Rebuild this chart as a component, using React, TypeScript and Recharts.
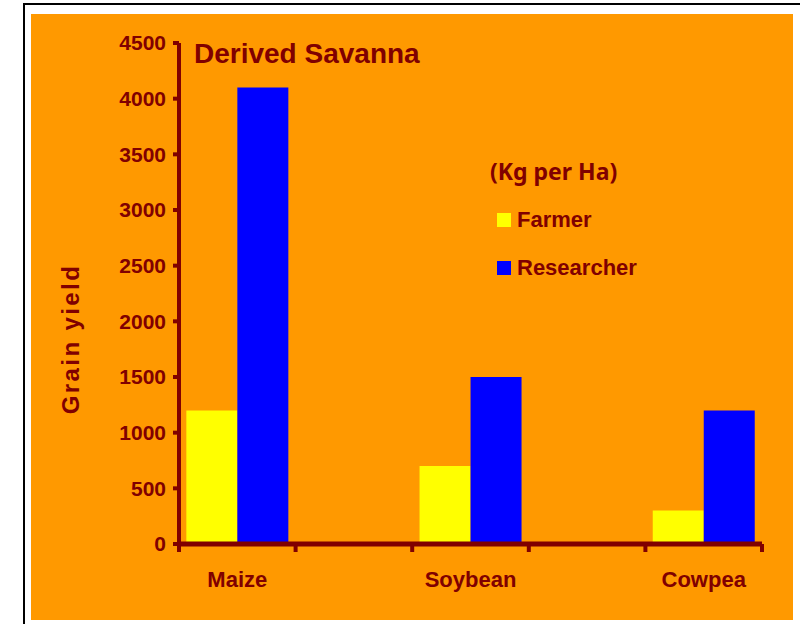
import { BarChart, Bar, XAxis, YAxis, Legend } from "recharts";

const categories = ["Maize", "", "Soybean", "", "Cowpea"];
const farmerYield = [1200, null, 700, null, 300];
const researcherYield = [4100, null, 1500, null, 1200];
const yTicks = [0, 500, 1000, 1500, 2000, 2500, 3000, 3500, 4000, 4500];

const DARK = "#800000";
const FONT = "'Liberation Sans', Arial, sans-serif";
const X_TICK_SIZE = 6;
const X_TICK_MARGIN = 21;

const data = categories.map((name, i) => ({
  name,
  Farmer: farmerYield[i],
  Researcher: researcherYield[i],
}));

// category label plus tick marks on the band edges (Excel style)
const CategoryTick = (props: any) => {
  const { x, y, payload, index, visibleTicksCount } = props;
  const half = payload.offset || 0;
  const axisY = y - X_TICK_MARGIN - X_TICK_SIZE;
  const isLast = index === visibleTicksCount - 1;
  return (
    <g>
      <line x1={x - half} x2={x - half} y1={axisY} y2={axisY + 8} stroke={DARK} strokeWidth={4} />
      {isLast && <line x1={x + half} x2={x + half} y1={axisY} y2={axisY + 8} stroke={DARK} strokeWidth={4} />}
      <text x={x} y={y} dy="0.71em" textAnchor="middle" fill={DARK} fontSize={22} fontWeight="bold" fontFamily={FONT}>
        {payload.value}
      </text>
    </g>
  );
};

const renderLegend = ({ payload }: any) => (
  <div style={{ fontFamily: FONT, color: DARK, fontWeight: "bold" }}>
    <div style={{ fontFamily: "'Noto Sans', sans-serif", fontSize: 23, marginLeft: -7, height: 41 }}>
      (Kg per Ha)
    </div>
    {(payload || []).map((p: any) => (
      <div key={p.value} style={{ display: "flex", alignItems: "center", height: 48, fontSize: 22 }}>
        <span style={{ width: 14, height: 14, background: p.color, marginRight: 6, display: "inline-block" }} />
        {p.value}
      </div>
    ))}
  </div>
);

export default function App() {
  return (
    <div style={{ position: "absolute", left: 0, top: 0, width: 800, height: 624, background: "#fff", overflow: "hidden" }}>
      <div style={{ position: "absolute", left: 23, top: 3, width: 790, height: 640, border: "2px solid #000" }} />
      <div style={{ position: "absolute", left: 31, top: 14, width: 762, height: 606, background: "#FF9900" }} />
      <div
        style={{
          position: "absolute", left: 194, top: 38, fontFamily: FONT, fontWeight: "bold",
          fontSize: 28, color: DARK, whiteSpace: "nowrap",
        }}
      >
        Derived Savanna
      </div>
      <div
        style={{
          position: "absolute", left: 71, top: 339, transform: "translate(-50%, -50%) rotate(-90deg)",
          fontFamily: FONT, fontWeight: "bold", fontSize: 24, letterSpacing: 2.4, color: DARK, whiteSpace: "nowrap",
        }}
      >
        Grain yield
      </div>
      <div style={{ position: "absolute", left: 0, top: 0 }}>
        <BarChart
          width={800}
          height={624}
          data={data}
          margin={{ top: 43, right: 38, bottom: 40, left: 119 }}
          barCategoryGap="6.3%"
          barGap={0}
        >
          <XAxis
            dataKey="name"
            height={40}
            axisLine={{ stroke: DARK, strokeWidth: 5 }}
            tickLine={false}
            tickSize={X_TICK_SIZE}
            tickMargin={X_TICK_MARGIN}
            tick={<CategoryTick />}
            interval={0}
          />
          <YAxis
            width={60}
            domain={[0, 4500]}
            ticks={yTicks}
            interval={0}
            axisLine={{ stroke: DARK, strokeWidth: 4 }}
            tickLine={{ stroke: DARK, strokeWidth: 4 }}
            tickSize={6}
            tickMargin={7}
            tick={{ fill: DARK, fontSize: 21, fontWeight: "bold", fontFamily: FONT }}
          />
          <Bar dataKey="Farmer" fill="#FFFF00" isAnimationActive={false} />
          <Bar dataKey="Researcher" fill="#0000FF" isAnimationActive={false} />
          <Legend
            layout="vertical"
            verticalAlign="middle"
            align="center"
            wrapperStyle={{ left: 497, top: 155, width: 200 }}
            content={renderLegend}
          />
        </BarChart>
      </div>
    </div>
  );
}
